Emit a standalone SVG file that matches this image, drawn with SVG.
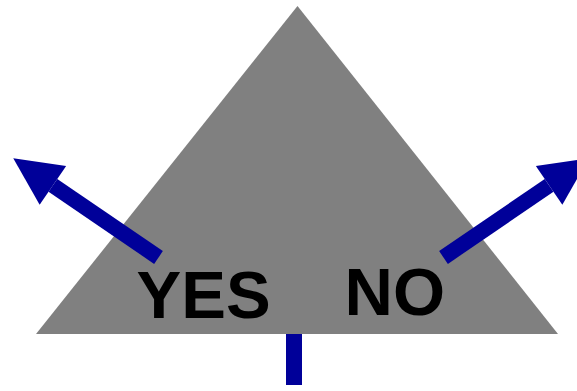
<svg xmlns="http://www.w3.org/2000/svg" width="577" height="391" viewBox="0 0 577 391">
<style>
.lbl{font-family:"Liberation Sans",Arial,sans-serif;font-weight:bold;font-size:67px;fill:#000}
.arr{stroke:#000099;stroke-width:15.5;fill:none}
</style>
<defs>
<marker id="ah" markerUnits="userSpaceOnUse" markerWidth="60" markerHeight="60" refX="0" refY="30" orient="auto" overflow="visible">
<path d="M0,6.5 L48,30 L0,53.5 Z" fill="#000099"/>
</marker>
</defs>
<g id="triangle"><polygon points="297.5,6 36,334 558,334" fill="#808080"/></g>
<g id="connectors">
<line class="arr" x1="158.5" y1="257.5" x2="52.9" y2="185.4" marker-end="url(#ah)"/>
<line class="arr" x1="443.5" y1="257.5" x2="549.1" y2="185.4" marker-end="url(#ah)"/>
<rect x="286" y="334" width="16" height="51" fill="#000099"/>
</g>
<g id="yes"><text class="lbl" x="136.5" y="318">YES</text></g>
<g id="no"><text class="lbl" x="344.5" y="315">NO</text></g>
</svg>
